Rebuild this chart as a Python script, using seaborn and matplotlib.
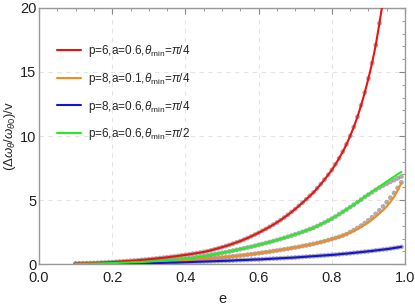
import numpy as np
import pandas as pd
import matplotlib
matplotlib.use("Agg")
import matplotlib.pyplot as plt
from matplotlib.ticker import MultipleLocator
import seaborn as sns

# eccentricity grid (step 0.01) shared by all curves
e_vals = [round(0.10 + 0.01 * i, 2) for i in range(90)]

# values
red_vals = [0.04, 0.05, 0.06, 0.07, 0.08, 0.09, 0.10, 0.12, 0.13, 0.15,
            0.16, 0.18, 0.20, 0.22, 0.24, 0.26, 0.28, 0.30, 0.33, 0.35,
            0.38, 0.41, 0.44, 0.47, 0.50, 0.53, 0.57, 0.60, 0.64, 0.68,
            0.72, 0.76, 0.81, 0.85, 0.90, 0.95, 1.01, 1.08, 1.16, 1.24,
            1.32, 1.41, 1.50, 1.60, 1.70, 1.80, 1.92, 2.04, 2.17, 2.31,
            2.45, 2.60, 2.75, 2.91, 3.08, 3.25, 3.44, 3.64, 3.85, 4.07,
            4.30, 4.55, 4.80, 5.06, 5.33, 5.60, 5.92, 6.25, 6.60, 6.97,
            7.35, 7.80, 8.27, 8.78, 9.35, 10.0, 10.7, 11.5, 12.4, 13.4,
            14.5, 15.7, 17.1, 18.8, 20.6, 22.6]
orange_vals = [0.01, 0.01, 0.02, 0.02, 0.03, 0.03, 0.04, 0.04, 0.05, 0.05,
               0.06, 0.07, 0.08, 0.08, 0.09, 0.10, 0.11, 0.12, 0.13, 0.14,
               0.15, 0.16, 0.18, 0.19, 0.21, 0.22, 0.24, 0.26, 0.28, 0.30,
               0.32, 0.34, 0.35, 0.37, 0.39, 0.41, 0.43, 0.45, 0.47, 0.50,
               0.52, 0.55, 0.58, 0.61, 0.64, 0.67, 0.70, 0.74, 0.77, 0.81,
               0.85, 0.89, 0.93, 0.97, 1.02, 1.06, 1.11, 1.15, 1.20, 1.25,
               1.30, 1.35, 1.41, 1.46, 1.52, 1.58, 1.65, 1.72, 1.79, 1.87,
               1.95, 2.04, 2.13, 2.23, 2.34, 2.45, 2.59, 2.74, 2.90, 3.07,
               3.25, 3.47, 3.70, 3.95, 4.21, 4.50, 4.85, 5.25, 5.75, 6.35]
blue_vals = [0.00, 0.01, 0.01, 0.01, 0.01, 0.02, 0.02, 0.02, 0.02, 0.03,
             0.03, 0.03, 0.04, 0.04, 0.05, 0.05, 0.05, 0.06, 0.06, 0.07,
             0.07, 0.08, 0.09, 0.09, 0.10, 0.11, 0.12, 0.12, 0.13, 0.14,
             0.15, 0.16, 0.17, 0.18, 0.19, 0.20, 0.21, 0.22, 0.23, 0.24,
             0.25, 0.26, 0.27, 0.28, 0.30, 0.31, 0.32, 0.33, 0.35, 0.36,
             0.37, 0.38, 0.40, 0.41, 0.43, 0.44, 0.46, 0.47, 0.49, 0.50,
             0.52, 0.54, 0.56, 0.58, 0.60, 0.62, 0.64, 0.66, 0.68, 0.70,
             0.72, 0.74, 0.77, 0.80, 0.82, 0.85, 0.88, 0.91, 0.94, 0.97,
             1.00, 1.03, 1.07, 1.10, 1.14, 1.17, 1.21, 1.26, 1.30, 1.35]
green_vals = [0.02, 0.02, 0.03, 0.03, 0.04, 0.04, 0.05, 0.05, 0.06, 0.07,
              0.08, 0.09, 0.10, 0.11, 0.12, 0.13, 0.14, 0.15, 0.17, 0.18,
              0.20, 0.22, 0.23, 0.25, 0.27, 0.29, 0.31, 0.34, 0.36, 0.39,
              0.42, 0.45, 0.49, 0.53, 0.57, 0.62, 0.67, 0.72, 0.77, 0.82,
              0.88, 0.93, 0.99, 1.05, 1.11, 1.17, 1.23, 1.30, 1.36, 1.43,
              1.50, 1.57, 1.65, 1.72, 1.80, 1.88, 1.96, 2.05, 2.14, 2.23,
              2.32, 2.42, 2.52, 2.62, 2.73, 2.84, 2.97, 3.11, 3.25, 3.40,
              3.55, 3.72, 3.90, 4.08, 4.26, 4.45, 4.64, 4.84, 5.04, 5.25,
              5.45, 5.65, 5.85, 6.05, 6.25, 6.45, 6.64, 6.83, 7.02, 7.20]

# numerical points (gray dots) differ from the curves only near e -> 1
orange_dots_tail = [2.50, 2.65, 2.82, 3.00, 3.20, 3.42, 3.66, 3.92, 4.20, 4.50,
                    4.83, 5.18, 5.55, 5.95, 6.38]          # e = 0.85 .. 0.99
green_dots_tail = [5.43, 5.61, 5.79, 5.96, 6.12, 6.27, 6.42, 6.56, 6.70, 6.84]  # e = 0.90 .. 0.99

labels = [r"p=6,a=0.6,$\theta_{\rm min}$=$\pi$/4",
          r"p=8,a=0.1,$\theta_{\rm min}$=$\pi$/4",
          r"p=8,a=0.6,$\theta_{\rm min}$=$\pi$/4",
          r"p=6,a=0.6,$\theta_{\rm min}$=$\pi$/2"]
colors = ["#ee1111", "#f58a1f", "#1414d6", "#22ee22"]

curves = [red_vals, orange_vals, blue_vals, green_vals]
dots = [red_vals,
        orange_vals[:75] + orange_dots_tail,
        blue_vals,
        green_vals[:80] + green_dots_tail]

line_df = pd.concat([pd.DataFrame({"e": e_vals[:len(v)], "y": v, "case": lab})
                     for v, lab in zip(curves, labels)], ignore_index=True)
dot_df = pd.concat([pd.DataFrame({"e": e_vals[:len(v)], "y": v, "case": lab})
                    for v, lab in zip(dots, labels)], ignore_index=True)

sns.set_style("white")
plt.rcParams["font.family"] = ["Liberation Sans", "DejaVu Sans"]
plt.rcParams["mathtext.fontset"] = "custom"
plt.rcParams["mathtext.rm"] = "Liberation Sans"
plt.rcParams["mathtext.it"] = "Liberation Sans:italic"

fig = plt.figure(figsize=(4.15, 3.05), dpi=100)
ax = fig.add_axes([0.094, 0.134, 0.882, 0.840])

# gray numerical points sit under the coloured curves
sns.scatterplot(data=dot_df, x="e", y="y", color="#8a8a8a", alpha=0.7,
                s=12, edgecolor="none", legend=False, ax=ax, zorder=2)
sns.lineplot(data=line_df, x="e", y="y", hue="case", palette=colors,
             linewidth=1.5, ax=ax, zorder=3)

ax.set_xlim(0, 1.0)
ax.set_ylim(0, 20)
ax.xaxis.set_major_locator(MultipleLocator(0.2))
ax.xaxis.set_minor_locator(MultipleLocator(0.05))
ax.yaxis.set_major_locator(MultipleLocator(5))
ax.yaxis.set_minor_locator(MultipleLocator(1))
ax.set_xticks([0, 0.2, 0.4, 0.6, 0.8, 1.0])
ax.set_xticklabels(["0.0", "0.2", "0.4", "0.6", "0.8", "1.0"])
ax.tick_params(which="both", direction="in", top=True, right=True,
               color="#888888", labelsize=10.5, labelcolor="#222222")
ax.tick_params(axis="x", pad=5)
ax.tick_params(axis="y", pad=2)
ax.tick_params(which="major", length=4, width=0.8)
ax.tick_params(which="minor", length=2.2, width=0.6)
for sp in ax.spines.values():
    sp.set_color("#999999")
    sp.set_linewidth(1.0)
ax.grid(True, which="major", linestyle=(0, (4, 4)), color="#e4e4e4", linewidth=0.8)

ax.set_xlabel("e", fontsize=10.5, labelpad=5)
ax.set_ylabel(r"$(\Delta\omega_\theta/\omega_{\theta0})/{\rm v}$", fontsize=9.5)
ax.yaxis.set_label_coords(-0.058, 0.5)

leg = ax.legend(loc="upper left", bbox_to_anchor=(0.02, 0.905), frameon=False,
                fontsize=8.5, handlelength=2.0, labelspacing=1.0, handletextpad=0.6)
for h in leg.get_lines():
    h.set_linewidth(1.5)

fig.savefig("out.png", dpi=100)
